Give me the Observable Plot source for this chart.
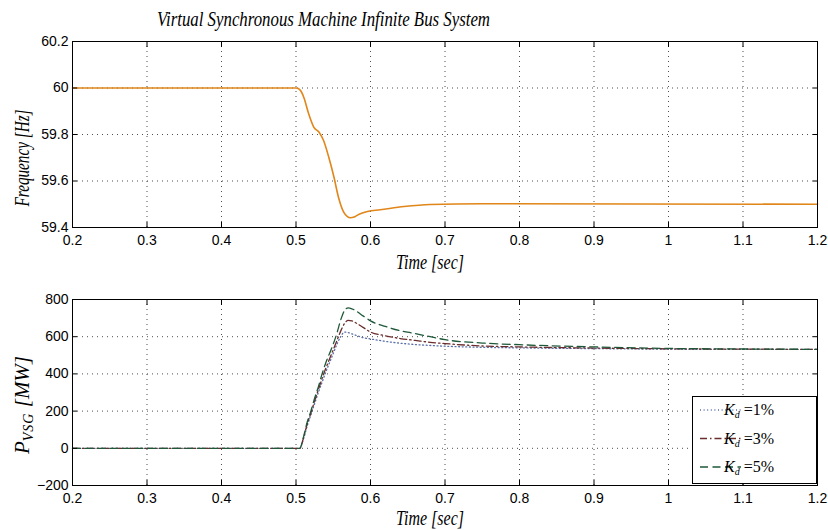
<!DOCTYPE html>
<html>
<head>
<meta charset="utf-8">
<script src="https://cdn.jsdelivr.net/npm/d3@7"></script>
<script src="https://cdn.jsdelivr.net/npm/@observablehq/plot@0.6"></script>
<style>
  body { margin: 0; background: #fff; }
  #wrap { width: 828px; height: 530px; overflow: hidden; background: #fff; }
  #wrap svg { display: block; }
</style>
</head>
<body>
<div id="wrap">
  <svg id="title" width="828" height="33">
    <text x="157" y="26" textLength="333" lengthAdjust="spacingAndGlyphs"
      font-family="Liberation Serif, DejaVu Serif, serif" font-style="italic" font-size="22" fill="#000">Virtual Synchronous Machine Infinite Bus System</text>
  </svg>
  <div id="top"></div>
  <div id="bottom"></div>
</div>
<script>
// ---- data ----
const freqTime = [0.2, 0.5, 0.503, 0.507, 0.511, 0.517, 0.524, 0.531, 0.537, 0.544, 0.551, 0.557, 0.564, 0.569, 0.573, 0.578, 0.582, 0.589, 0.596, 0.613, 0.645, 0.68, 0.75, 1.2];
const freqHz   = [60, 60, 59.998, 59.985, 59.955, 59.889, 59.831, 59.81, 59.774, 59.702, 59.616, 59.53, 59.466, 59.447, 59.442, 59.445, 59.452, 59.462, 59.469, 59.476, 59.49, 59.499, 59.502, 59.5];

const powerTime = [0.2, 0.5, 0.505, 0.51, 0.515, 0.52, 0.525, 0.53, 0.535, 0.54, 0.545, 0.55, 0.555, 0.56, 0.565, 0.57, 0.575, 0.58, 0.59, 0.6, 0.62, 0.64, 0.66, 0.68, 0.7, 0.75, 0.8, 0.9, 1.0, 1.1, 1.2];
const powerKd1  = [0, 0, 0, 50, 120, 180, 240, 300, 355, 410, 460, 510, 560, 600, 625, 622, 615, 608, 595, 588, 575, 565, 558, 553, 549, 543, 540, 536, 533, 532, 532];
const powerKd3  = [0, 0, 0, 55, 130, 190, 255, 315, 375, 430, 480, 530, 580, 630, 670, 688, 685, 675, 650, 625, 605, 590, 580, 570, 563, 550, 545, 539, 535, 533, 532];
const powerKd5  = [0, 0, 0, 60, 140, 200, 270, 330, 400, 460, 510, 560, 620, 690, 740, 755, 750, 740, 712, 685, 655, 632, 617, 600, 584, 566, 557, 545, 537, 534, 532];

const seriesLabels = ["1%", "3%", "5%"];
const xTicks = [0.2, 0.3, 0.4, 0.5, 0.6, 0.7, 0.8, 0.9, 1.0, 1.1, 1.2];
const freqTicks = [59.4, 59.6, 59.8, 60, 60.2];
const powerTicks = [-200, 0, 200, 400, 600, 800];

// ---- styling ----
const seriesColors = ["#5a6ea8", "#6a2c2c", "#1e5838"];
const seriesDash = ["1,2.6", "7,3,1.5,3", "8,4.5"];
const fmt1 = d => String(Math.round(d * 10) / 10);
const fmtP = d => d < 0 ? "\u2212" + (-d) : String(d);
const gridStyle = {stroke: "#222", strokeOpacity: 0.8, strokeDasharray: "1,4", strokeWidth: 1};
const baseStyle = {fontFamily: "Liberation Sans, Arial, sans-serif", fontSize: "14px", color: "#000", background: "#fff", overflow: "visible"};

function axes(yTicks, yFmt) {
  return [
    Plot.frame({stroke: "#000", strokeWidth: 1}),
    Plot.axisX(xTicks, {anchor: "bottom", tickSize: -5, tickPadding: 13, fontSize: 14, tickFormat: fmt1, label: null}),
    Plot.axisX(xTicks, {anchor: "top", tickSize: -5, tickFormat: () => "", label: null}),
    Plot.axisY(yTicks, {anchor: "left", tickSize: -5, tickPadding: 9, fontSize: 14, tickFormat: yFmt, label: null}),
    Plot.axisY(yTicks, {anchor: "right", tickSize: -5, tickFormat: () => "", label: null})
  ];
}

// ---- top chart ----
const freqData = freqTime.map((t, i) => ({t, f: freqHz[i]}));
const p1 = Plot.plot({
  width: 828, height: 245,
  marginTop: 8, marginBottom: 18 + 33, marginLeft: 72, marginRight: 11,
  style: baseStyle,
  x: {domain: [0.2, 1.2]},
  y: {domain: [59.4, 60.2]},
  marks: [
    Plot.gridX(xTicks, gridStyle),
    Plot.gridY(freqTicks, gridStyle),
    Plot.line(freqData, {x: "t", y: "f", stroke: "#e0861a", strokeWidth: 1.6, curve: "monotone-x"}),
    ...axes(freqTicks, fmt1)
  ]
});
document.getElementById("top").appendChild(p1);

// ---- bottom chart ----
const powerSeries = [powerKd1, powerKd3, powerKd5];
const p2 = Plot.plot({
  width: 828, height: 252,
  marginTop: 21, marginBottom: 45, marginLeft: 72, marginRight: 11,
  style: baseStyle,
  x: {domain: [0.2, 1.2]},
  y: {domain: [-200, 800]},
  marks: [
    Plot.gridX(xTicks, gridStyle),
    Plot.gridY(powerTicks, gridStyle),
    ...powerSeries.map((vals, s) =>
      Plot.line(powerTime.map((t, i) => ({t, p: vals[i]})), {
        x: "t", y: "p", stroke: seriesColors[s], strokeWidth: 1.3,
        strokeDasharray: seriesDash[s], curve: "monotone-x"
      })),
    ...axes(powerTicks, fmtP)
  ]
});
document.getElementById("bottom").appendChild(p2);

// ---- axis titles ----
const serif = "Liberation Serif, DejaVu Serif, serif";
function xTitle(svg, y) {
  d3.select(svg).append("text")
    .attr("x", 430).attr("y", y).attr("text-anchor", "middle")
    .attr("font-family", serif).attr("font-style", "italic").attr("font-size", 20)
    .attr("textLength", 68).attr("lengthAdjust", "spacingAndGlyphs")
    .attr("fill", "#000").text("Time [sec]");
}
xTitle(p1, 236);
xTitle(p2, 247);

d3.select(p1).append("text")
  .attr("transform", "translate(29,125) rotate(-90)")
  .attr("text-anchor", "middle")
  .attr("font-family", serif).attr("font-style", "italic").attr("font-size", 20)
  .attr("textLength", 97).attr("lengthAdjust", "spacingAndGlyphs")
  .attr("fill", "#000").text("Frequency [Hz]");

const yl2 = d3.select(p2).append("text")
  .attr("transform", "translate(29,127) rotate(-90)")
  .attr("text-anchor", "middle")
  .attr("font-family", serif).attr("font-style", "italic").attr("font-size", 21)
  .attr("fill", "#000");
yl2.append("tspan").text("P");
yl2.append("tspan").attr("font-size", 14).attr("dy", 4).attr("letter-spacing", 1).text("VSG");
yl2.append("tspan").attr("dy", -4).text(" [MW]");

// ---- legend ----
const lg = d3.select(p2).append("g").attr("transform", "translate(692,118)");
lg.append("rect").attr("x", 0.5).attr("y", 0.5).attr("width", 124).attr("height", 87)
  .attr("fill", "#fff").attr("stroke", "#000").attr("stroke-width", 1);
seriesLabels.forEach((lab, s) => {
  const y = 14 + s * 28.5;
  lg.append("line").attr("x1", 8).attr("x2", 49).attr("y1", y).attr("y2", y)
    .attr("stroke", seriesColors[s]).attr("stroke-width", 1.3).attr("stroke-dasharray", seriesDash[s]);
  const t = lg.append("text").attr("x", 57).attr("y", y + 5)
    .attr("font-family", serif).attr("font-size", 16).attr("fill", "#000");
  t.append("tspan").attr("font-style", "italic").text("K");
  t.append("tspan").attr("font-style", "italic").attr("font-size", 10).attr("dy", 3).text("d");
  t.append("tspan").attr("dy", -3).text(" =" + lab);
});
</script>
</body>
</html>
